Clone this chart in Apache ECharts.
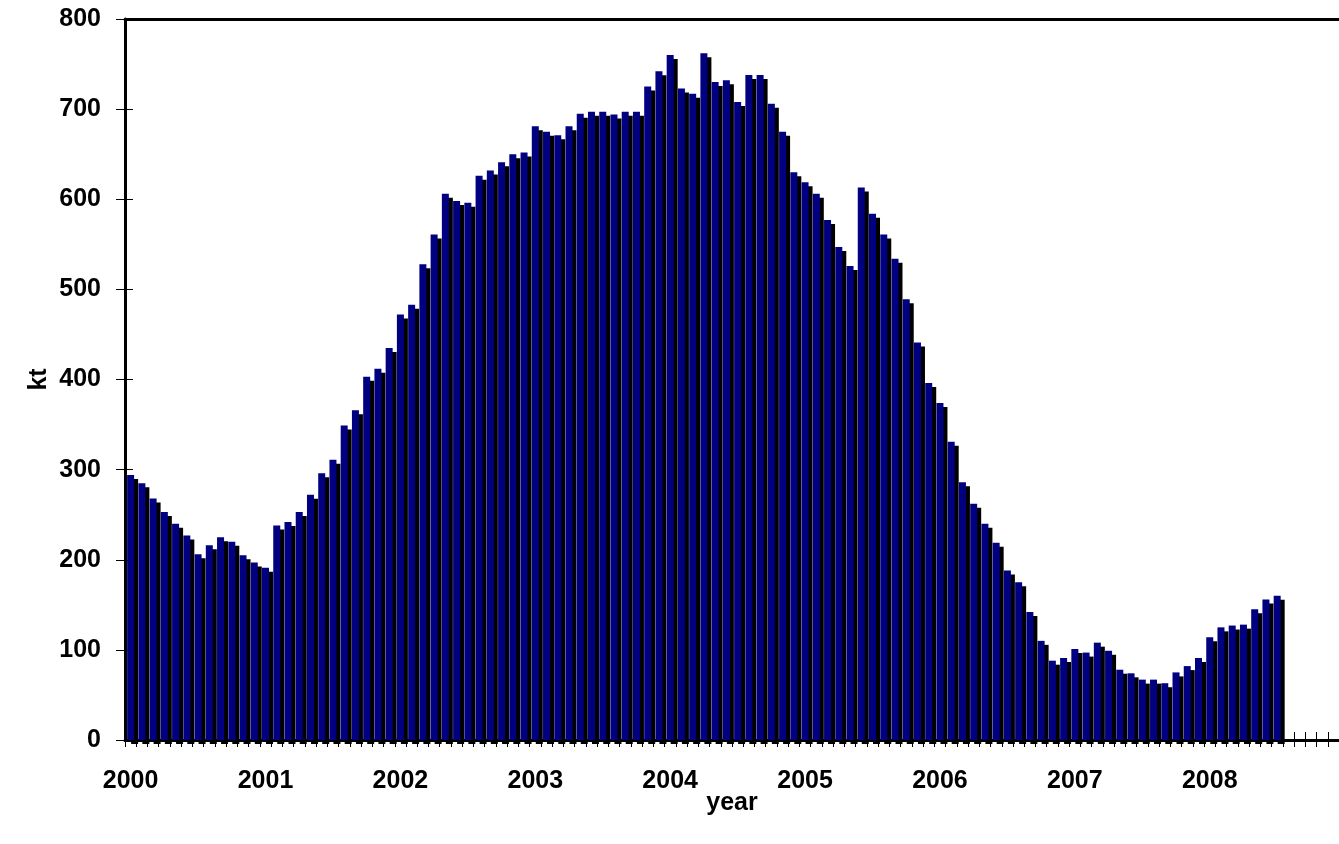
<!DOCTYPE html>
<html>
<head>
<meta charset="utf-8">
<title>Monthly stock, kt</title>
<script src="https://cdn.jsdelivr.net/npm/echarts@6/dist/echarts.min.js"></script>
<style>
  html, body { margin: 0; padding: 0; background: #ffffff; }
  #chart { width: 1339px; height: 844px; }
</style>
</head>
<body>
<div id="chart"></div>
<script>
// Year labels on the time axis (one label per January)
const years = ['2000', '2001', '2002', '2003', '2004', '2005', '2006', '2007', '2008'];
const monthsPerYear = 12;

// Monthly values in kt, January 2000 onward
const monthlyKt = [
  294, 285, 268, 253, 240, 227, 206, 216, 225, 220, 205, 197,   // 2000
  191, 238, 242, 253, 272, 296, 311, 349, 366, 403, 412, 435,   // 2001
  472, 483, 528, 561, 606, 598, 596, 626, 632, 641, 650, 652,   // 2002
  681, 675, 671, 681, 695, 697, 697, 694, 697, 697, 725, 742,   // 2003
  760, 723, 717, 762, 730, 732, 708, 738, 738, 706, 675, 630,   // 2004
  619, 606, 577, 547, 526, 613, 584, 561, 534, 489, 441, 396,   // 2005
  374, 331, 286, 262, 240, 219, 188, 175, 142, 110, 88, 91,     // 2006
  101, 97, 108, 99, 78, 74, 67, 67, 63, 75, 82, 91,             // 2007
  114, 125, 127, 128, 145, 156, 160                             // 2008
];

// Value axis ticks
const yTicks = { min: 0, max: 800, step: 100 };

// One category per month over the whole span of years
const categories = [];
years.forEach(function (y) {
  for (let m = 1; m <= monthsPerYear; m++) {
    categories.push(y + '-' + (m < 10 ? '0' + m : m));
  }
});

const font = "'Liberation Sans', Arial, sans-serif";
const labelStyle = { color: '#000', fontFamily: font, fontWeight: 'bold', fontSize: 25 };

const chart = echarts.init(document.getElementById('chart'), null, { renderer: 'canvas' });

chart.setOption({
  animation: false,
  backgroundColor: '#ffffff',
  grid: { left: 125, top: 19, width: 1215, height: 721, containLabel: false },
  xAxis: [
    {
      type: 'category',
      data: categories,
      position: 'bottom',
      boundaryGap: true,
      name: 'year',
      nameLocation: 'middle',
      nameGap: 51,
      nameMoveOverlap: false,
      nameTextStyle: labelStyle,
      axisLine: { show: true, lineStyle: { color: '#000', width: 3 } },
      axisTick: { show: true, interval: 0, inside: false, length: 7, lineStyle: { color: '#000', width: 1 } },
      axisLabel: Object.assign({
        interval: monthsPerYear - 1,
        margin: 29,
        formatter: function (v) { return v.slice(0, 4); }
      }, labelStyle),
      splitLine: { show: false }
    },
    {
      // inner half of the crossing month ticks
      type: 'category',
      data: categories,
      position: 'bottom',
      axisLine: { show: false },
      axisTick: { show: true, interval: 0, inside: true, length: 8, lineStyle: { color: '#000', width: 1 } },
      axisLabel: { show: false },
      splitLine: { show: false }
    },
    {
      // frame line along the top of the plot
      type: 'category',
      data: categories,
      position: 'top',
      axisLine: { show: true, lineStyle: { color: '#000', width: 3 } },
      axisTick: { show: false },
      axisLabel: { show: false },
      splitLine: { show: false }
    }
  ],
  yAxis: [
    {
      type: 'value',
      min: yTicks.min,
      max: yTicks.max,
      interval: yTicks.step,
      position: 'left',
      name: 'kt',
      nameLocation: 'middle',
      nameGap: 73,
      nameMoveOverlap: false,
      nameTextStyle: labelStyle,
      axisLine: { show: true, lineStyle: { color: '#000', width: 3 } },
      axisTick: { show: true, inside: false, length: 9, lineStyle: { color: '#000', width: 1 } },
      axisLabel: Object.assign({ margin: 24 }, labelStyle),
      splitLine: { show: false }
    },
    {
      // inner half of the crossing value ticks
      type: 'value',
      min: yTicks.min,
      max: yTicks.max,
      interval: yTicks.step,
      position: 'left',
      axisLine: { show: false },
      axisTick: { show: true, inside: true, length: 8, lineStyle: { color: '#000', width: 1 } },
      axisLabel: { show: false },
      splitLine: { show: false }
    }
  ],
  series: [
    {
      type: 'bar',
      xAxisIndex: 0,
      yAxisIndex: 0,
      data: monthlyKt,
      barWidth: 7,
      clip: true,
      itemStyle: {
        color: '#000080',
        shadowColor: '#000000',
        shadowBlur: 0,
        shadowOffsetX: 4,
        shadowOffsetY: 4
      },
      emphasis: { disabled: true },
      z: 2
    }
  ]
});
</script>
</body>
</html>
